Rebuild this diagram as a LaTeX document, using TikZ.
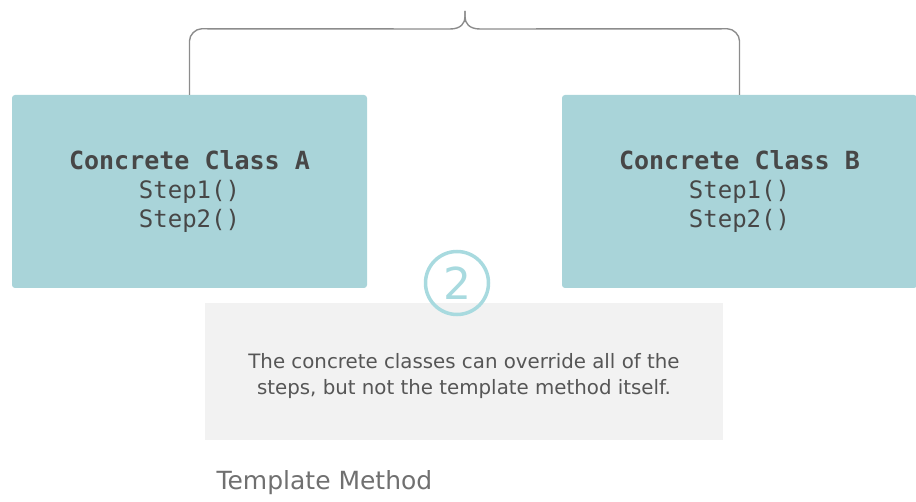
\documentclass[tikz,border=0pt]{standalone}
\usepackage{fontspec}
\setmainfont{DejaVu Sans}
\newfontfamily\codefont{DejaVu Sans Mono}
\usetikzlibrary{calc}
\definecolor{BoxClr}{HTML}{A9D4D9}
\definecolor{NoteClr}{HTML}{F2F2F2}
\definecolor{RingClr}{HTML}{A8DADF}
\definecolor{CodeClr}{HTML}{474747}
\definecolor{NoteTextClr}{HTML}{565656}
\definecolor{TitleClr}{HTML}{707070}
\definecolor{BraceClr}{HTML}{8C8C8C}

\begin{document}
\begin{tikzpicture}[x=1pt,y=-1pt,
  classbox/.style={fill=BoxClr,rounded corners=3pt,minimum width=355pt,minimum height=193pt,
    align=center,text=CodeClr,font=\codefont\fontsize{24}{29}\selectfont},
  notebox/.style={fill=NoteClr,minimum width=518pt,minimum height=137pt},
  bracket/.style={draw=BraceClr,line width=1.4pt}]
\useasboundingbox (0,0) rectangle (916,502);

\node[classbox] (clsA) at (189.5,191.5) {{\fontsize{25}{29}\selectfont\bfseries Concrete Class A}\\Step1()\\Step2()};
\node[classbox] (clsB) at (739.5,191.5) {{\fontsize{25}{29}\selectfont\bfseries Concrete Class B}\\Step1()\\Step2()};

\node[notebox] (note) at (464,371.5) {};
\node[align=center,text=NoteTextClr,font=\fontsize{19.8}{26}\selectfont] (notetext) at (464,376)
  {The concrete classes can override all of the\\steps, but not the template method itself.};

\node[circle,draw=RingClr,line width=3.5pt,minimum size=63pt,inner sep=0pt,
  text=RingClr,font=\fontsize{44}{44}\selectfont] (num) at (457,283) {2};

% brace over both classes
\coordinate (tip) at (465,11);
\draw[bracket] (clsA.north) -- ($(clsA.north)+(0,-54)$)
  .. controls ($(clsA.north)+(0,-60)$) and ($(clsA.north)+(6,-66)$) .. ($(clsA.north)+(12,-66)$)
  -- ($(tip)+(-15,18)$) .. controls ($(tip)+(-4,18)$) and ($(tip)+(0,12)$) .. ($(tip)+(0,6)$) -- (tip);
\draw[bracket] (clsB.north) -- ($(clsB.north)+(0,-54)$)
  .. controls ($(clsB.north)+(0,-60)$) and ($(clsB.north)+(-6,-66)$) .. ($(clsB.north)+(-12,-66)$)
  -- ($(tip)+(15,18)$) .. controls ($(tip)+(4,18)$) and ($(tip)+(0,12)$) .. ($(tip)+(0,6)$) -- (tip);

\node[anchor=west,text=TitleClr,font=\fontsize{25}{25}\selectfont] (title) at (213,483) {Template Method};
\end{tikzpicture}
\end{document}
